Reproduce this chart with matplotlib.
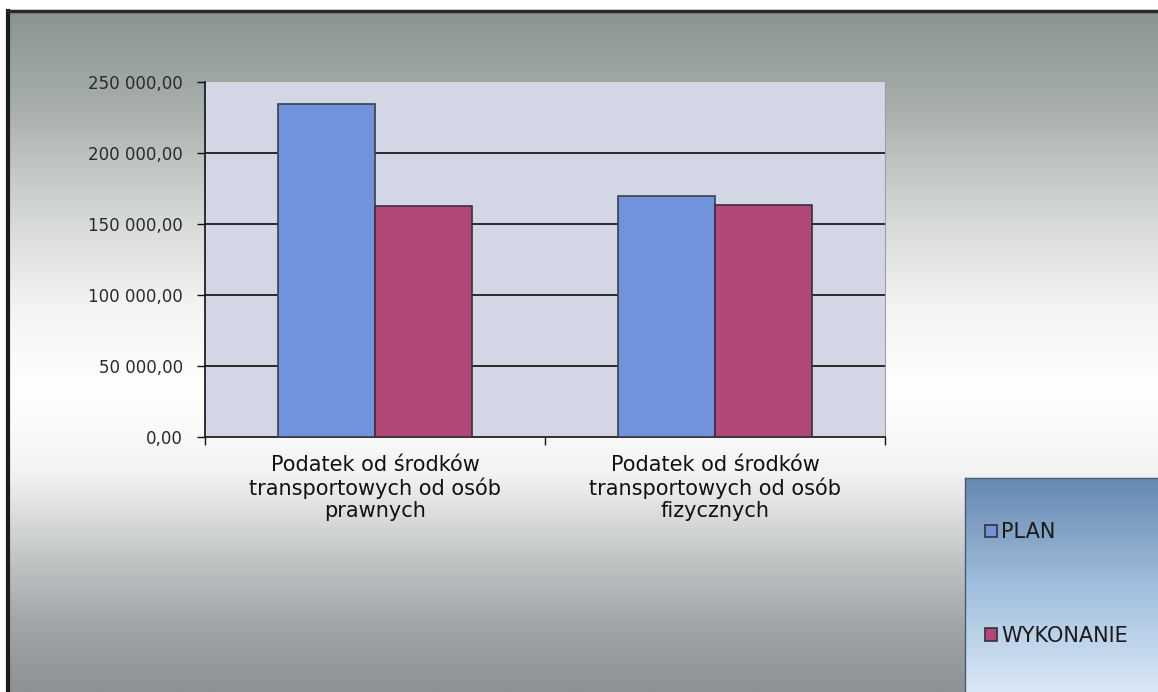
import numpy as np
import matplotlib
matplotlib.use("Agg")
import matplotlib.pyplot as plt
from matplotlib.ticker import FuncFormatter, FixedLocator
from matplotlib.colors import LinearSegmentedColormap
from matplotlib.patches import Patch

# data
categories = ["Podatek od środków\ntransportowych od osób\nprawnych",
              "Podatek od środków\ntransportowych od osób\nfizycznych"]
plan = [234500, 169500]
wykonanie = [162700, 163200]
series_names = ["PLAN", "WYKONANIE"]
yticks = [0, 50000, 100000, 150000, 200000, 250000]

plan_color = "#7093dc"
wyk_color = "#b2477a"

plt.rcParams['font.family'] = ['DejaVu Sans']

W, H = 1158, 692
fig = plt.figure(figsize=(W / 100, H / 100), dpi=100)
fig.patch.set_facecolor("white")

# background with vertical gradient
bg = fig.add_axes([0, 0, 1, 1], zorder=-10)
bg.set_xlim(0, W)
bg.set_ylim(H, 0)
bg.axis("off")
stops = [(0.0, "#8a9592"), (0.13, "#a5ada9"), (0.28, "#d0d4d0"),
         (0.43, "#f3f3f1"), (0.56, "#ffffff"), (0.68, "#f3f3f3"),
         (0.80, "#c4c7c8"), (0.90, "#a2a6a8"), (1.0, "#8d9295")]
cmap = LinearSegmentedColormap.from_list("bggrad", stops)
grad = np.linspace(0, 1, 400).reshape(-1, 1)
bg.imshow(grad, cmap=cmap, aspect="auto", extent=[8, W, H, 11], interpolation="bicubic")
bg.plot([8, 8], [11, H], color="#1a1a1a", lw=3)
bg.plot([8, W], [11, 11], color="#2a2a2a", lw=2.5)

# legend box gradient
lcmap = LinearSegmentedColormap.from_list("lgrad", ["#6689b0", "#a0bedd", "#d9e8f7"])
bg.imshow(np.linspace(0, 1, 200).reshape(-1, 1), cmap=lcmap, aspect="auto",
          extent=[965, W, H, 478], interpolation="bicubic")
bg.plot([965, 965], [478, H], color="#4a5a68", lw=1)
bg.plot([965, W], [478, 478], color="#4a6078", lw=1)

# main chart
ax = fig.add_axes([205 / W, 1 - 437 / H, 680 / W, 355 / H])
ax.set_facecolor("#d3d6e4")

x = np.arange(len(categories))
bw = 0.285
ax.bar(x - bw / 2, plan, bw, color=plan_color, edgecolor="#3a4048", linewidth=1.2, zorder=3)
ax.bar(x + bw / 2, wykonanie, bw, color=wyk_color, edgecolor="#3a3038", linewidth=1.2, zorder=3)

ax.set_xlim(-0.5, 1.5)
ax.set_ylim(0, 250000)
ax.set_yticks(yticks)
ax.yaxis.set_major_formatter(FuncFormatter(
    lambda v, p: "{:,.2f}".format(v).replace(",", " ").replace(".", ",")))
for y in yticks[1:-1]:
    ax.axhline(y, color="#1e1e1e", lw=1.3, zorder=1)

ax.set_xticks(x)
ax.set_xticklabels(categories, fontsize=15, linespacing=1.12, color="#111111")
ax.xaxis.set_minor_locator(FixedLocator([-0.5, 0.5, 1.5]))
ax.tick_params(axis="x", which="major", length=0, pad=13)
ax.tick_params(axis="x", which="minor", length=6, width=1, color="#111111", direction="out")
ax.tick_params(axis="y", length=6, width=1, color="#111111", direction="out",
               labelsize=12, labelcolor="#2a2a2a", pad=10)

ax.spines["top"].set_visible(False)
ax.spines["right"].set_color("#9a9ea8")
ax.spines["left"].set_color("#111111")
ax.spines["bottom"].set_color("#111111")
ax.spines["left"].set_linewidth(1.2)
ax.spines["bottom"].set_linewidth(1.2)

handles = [Patch(facecolor=plan_color, edgecolor="#333333", lw=1.2),
           Patch(facecolor=wyk_color, edgecolor="#333333", lw=1.2)]
leg = fig.legend(handles, series_names, loc="upper left",
                 bbox_to_anchor=(975 / W, 1 - 512 / H), frameon=False,
                 fontsize=15, labelspacing=4.0, handlelength=0.55, handleheight=0.55,
                 handletextpad=0.2, borderpad=0, labelcolor="#1a1a1a")

fig.savefig("out.png", dpi=100)
